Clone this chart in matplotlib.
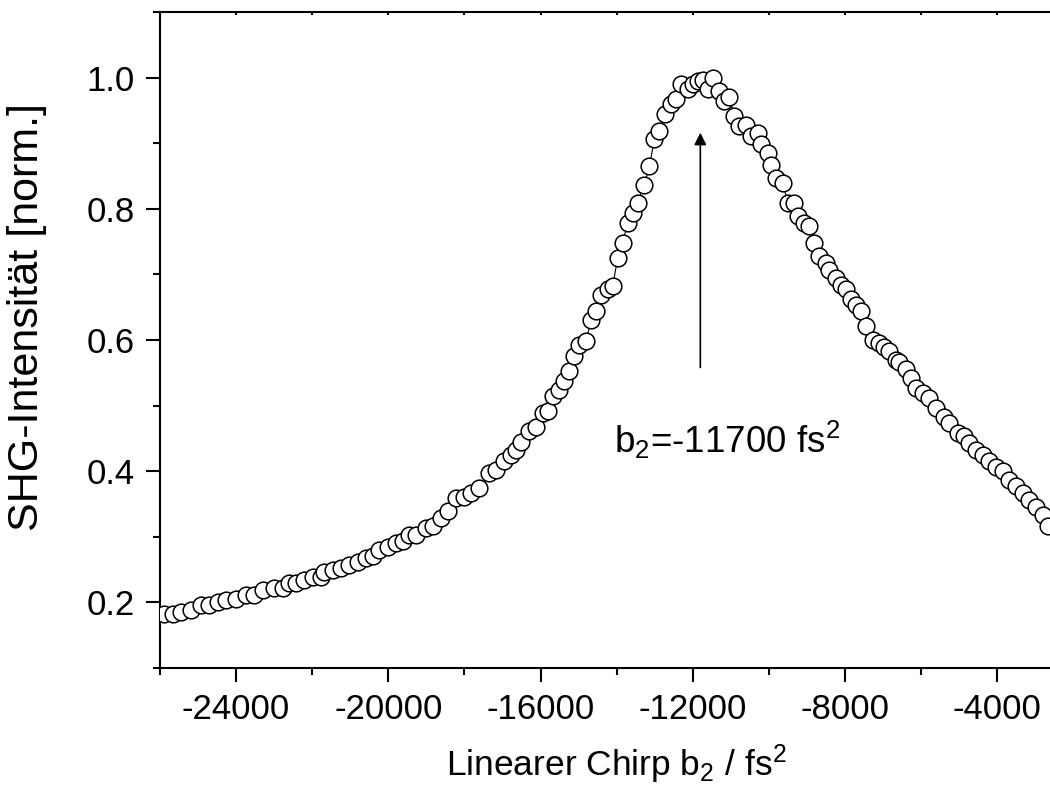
import matplotlib
matplotlib.use('Agg')
import matplotlib.pyplot as plt
from matplotlib.ticker import MultipleLocator, FormatStrFormatter

plt.rcParams['font.family'] = ['Liberation Sans', 'DejaVu Sans']
plt.rcParams['mathtext.fontset'] = 'custom'
plt.rcParams['mathtext.rm'] = 'Liberation Sans'
plt.rcParams['mathtext.it'] = 'Liberation Sans:italic'
plt.rcParams['axes.unicode_minus'] = False

# linear chirp b2 [fs^2]
chirp = [
	-25884, -25666, -25445, -25183, -24920, -24702, -24484, -24263, -24000, -23737,
	-23519, -23301, -22993, -22775, -22599, -22423, -22205, -21987, -21766, -21680,
	-21461, -21241, -21022, -20804, -20584, -20410, -20234, -20016, -19795, -19622,
	-19446, -19270, -19007, -18833, -18613, -18439, -18218, -18000, -17824, -17606,
	-17343, -17167, -16949, -16773, -16642, -16510, -16292, -16116, -15943, -15811,
	-15680, -15504, -15372, -15241, -15109, -14978, -14802, -14671, -14539, -14408,
	-14234, -14103, -13972, -13840, -13709, -13577, -13446, -13270, -13138, -13007,
	-12876, -12718, -12568, -12437, -12305, -12132, -12000, -11869, -11738, -11606,
	-11475, -11299, -11167, -11036, -10905, -10773, -10597, -10466, -10292, -10203,
	-10030, -9940, -9809, -9635, -9504, -9328, -9241, -9065, -8934, -8802,
	-8671, -8495, -8408, -8232, -8101, -7969, -7838, -7706, -7575, -7444,
	-7270, -7094, -6963, -6831, -6655, -6568, -6392, -6261, -6130, -5956,
	-5780, -5604, -5386, -5255, -5036, -4860, -4729, -4553, -4379, -4203,
	-4027, -3854, -3678, -3502, -3328, -3152, -2976, -2803, -2671,
]

# normalised SHG intensity
shg = [
	0.183, 0.183, 0.186, 0.189, 0.196, 0.196, 0.200, 0.204, 0.205, 0.211,
	0.211, 0.219, 0.222, 0.222, 0.229, 0.229, 0.234, 0.239, 0.239, 0.247,
	0.250, 0.252, 0.257, 0.262, 0.267, 0.270, 0.280, 0.285, 0.290, 0.293,
	0.303, 0.303, 0.313, 0.316, 0.328, 0.339, 0.359, 0.361, 0.367, 0.374,
	0.397, 0.402, 0.415, 0.425, 0.433, 0.445, 0.461, 0.468, 0.489, 0.491,
	0.514, 0.524, 0.537, 0.552, 0.575, 0.593, 0.598, 0.631, 0.644, 0.669,
	0.677, 0.682, 0.725, 0.748, 0.779, 0.794, 0.809, 0.837, 0.865, 0.906,
	0.918, 0.944, 0.959, 0.967, 0.990, 0.982, 0.990, 0.995, 0.997, 0.982,
	1.000, 0.979, 0.964, 0.971, 0.941, 0.926, 0.928, 0.911, 0.916, 0.898,
	0.885, 0.867, 0.847, 0.840, 0.809, 0.809, 0.789, 0.779, 0.773, 0.748,
	0.728, 0.717, 0.707, 0.695, 0.684, 0.677, 0.662, 0.654, 0.644, 0.621,
	0.600, 0.595, 0.590, 0.583, 0.570, 0.567, 0.555, 0.542, 0.527, 0.519,
	0.512, 0.496, 0.483, 0.473, 0.458, 0.453, 0.443, 0.433, 0.425, 0.415,
	0.407, 0.400, 0.387, 0.377, 0.367, 0.356, 0.346, 0.333, 0.316,
]

peak_pos = -11800

fig = plt.figure(figsize=(10.5, 7.89), dpi=100)
ax = fig.add_axes([0.1524, 0.1534, 0.8697, 0.8314])

ax.plot(chirp, shg, color='black', lw=0.8, zorder=2)
ax.plot(chirp, shg, ls='none', marker='o', ms=12, mfc='white', mec='black',
		mew=1.1, zorder=3)

ax.annotate('', xy=(peak_pos, 0.916), xytext=(peak_pos, 0.558),
			arrowprops=dict(arrowstyle='-|>', color='black', lw=1.2,
							mutation_scale=18, shrinkA=0, shrinkB=0))
ax.text(-14080, 0.448, r'b$_\mathregular{2}$=-11700 fs$^\mathregular{2}$',
		fontsize=26.5, ha='left', va='center')

ax.set_xlim(-26000, -2000)
ax.set_ylim(0.1, 1.1)
ax.xaxis.set_major_locator(MultipleLocator(4000))
ax.xaxis.set_minor_locator(MultipleLocator(2000))
ax.yaxis.set_major_locator(MultipleLocator(0.2))
ax.yaxis.set_minor_locator(MultipleLocator(0.1))
ax.yaxis.set_major_formatter(FormatStrFormatter('%.1f'))

ax.spines['right'].set_visible(False)
for s in ['left', 'bottom', 'top']:
	ax.spines[s].set_linewidth(1.5)

ax.tick_params(which='major', direction='out', length=10, width=1.5,
			   labelsize=25, pad=8)
ax.tick_params(which='minor', direction='out', length=5, width=1.5)
ax.tick_params(axis='x', which='both', top=True)
# tiny inward marks on the top axis
for t in ax.xaxis.get_major_ticks() + ax.xaxis.get_minor_ticks():
	t.tick2line.set_marker(3)
	t.tick2line.set_markersize(2)

ax.set_xlabel(r'Linearer Chirp b$_\mathregular{2}$ / fs$^\mathregular{2}$',
			  fontsize=25.5, labelpad=12)
ax.set_ylabel('SHG-Intensität [norm.]', fontsize=31)
ax.yaxis.set_label_coords(-0.124, 0.535)

fig.savefig('out.png', dpi=100)
